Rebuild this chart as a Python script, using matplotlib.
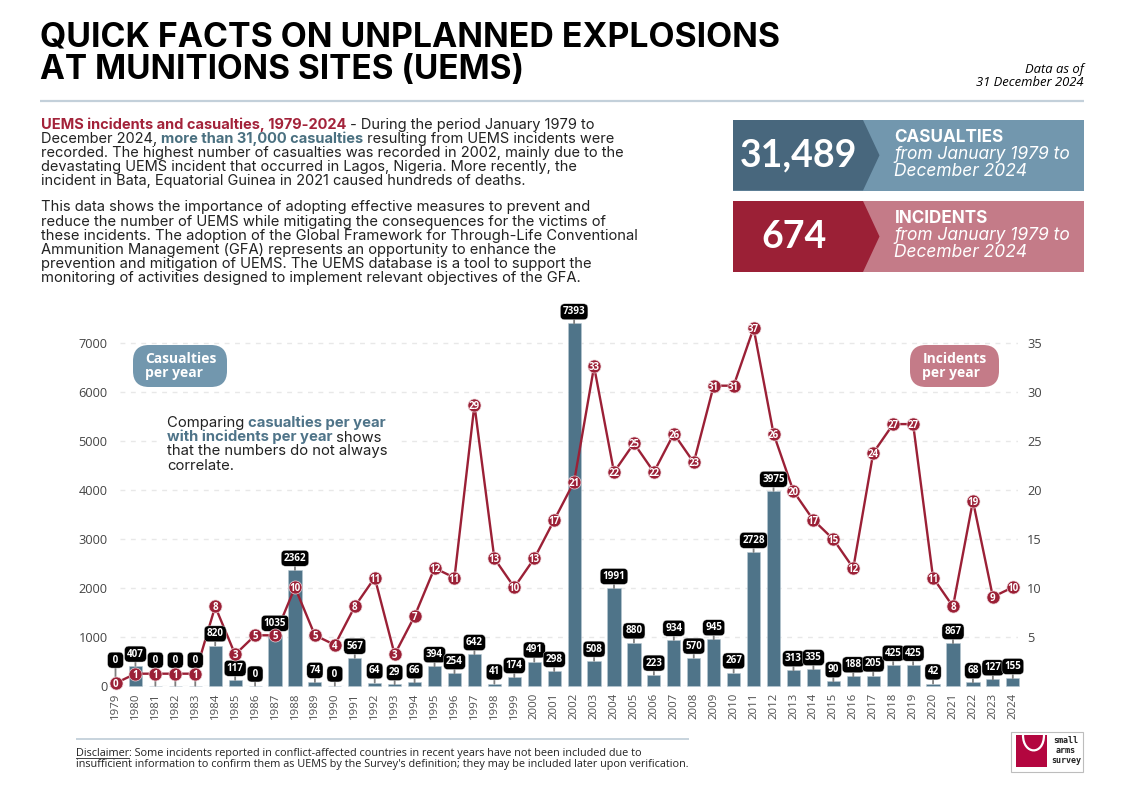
import matplotlib
matplotlib.use("Agg")
import matplotlib.pyplot as plt
from matplotlib.patches import FancyBboxPatch, Polygon, Rectangle, PathPatch
from matplotlib.path import Path

# ---------------------------------------------------------------------------
# Data
# ---------------------------------------------------------------------------
years = list(range(1979, 2025))
casualties = [0, 407, 0, 0, 0, 820, 117, 0, 1035, 2362, 74, 0, 567, 64, 29, 66,
              394, 254, 642, 41, 174, 491, 298, 7393, 508, 1991, 880, 223, 934,
              570, 945, 267, 2728, 3975, 313, 335, 90, 188, 205, 425, 425, 42,
              867, 68, 127, 155]
incidents = [0, 1, 1, 1, 1, 8, 3, 5, 5, 10, 5, 4, 8, 11, 3, 7, 12, 11, 29, 13, 10,
             13, 17, 21, 33, 22, 25, 22, 26, 23, 31, 31, 37, 26, 20, 17, 15, 12,
             24, 27, 27, 11, 8, 19, 9, 10]
left_ticks = [0, 1000, 2000, 3000, 4000, 5000, 6000, 7000]
right_ticks = [5, 10, 15, 20, 25, 30, 35]
raised_labels = [1979, 1981, 1982, 1983]

BLUE = "#4f7489"
BLUE_DARK = "#48677d"
BLUE_LIGHT = "#7297ae"
RED = "#9b2036"
RED_LIGHT = "#c47b88"
RULE = "#c3d0da"
INK = "#222222"

HEAD = "Inter"
BODY = "Open Sans"

W, H = 1122, 793
fig = plt.figure(figsize=(W / 100, H / 100), dpi=100, facecolor="white")

# ---------------------------------------------------------------------------
# Chart
# ---------------------------------------------------------------------------
ax = fig.add_axes([110 / W, (H - 685.7) / H, 908 / W, 367.5 / H])
ax.bar(years, casualties, width=0.66, color=BLUE, edgecolor="#b9c9d3", linewidth=0.4,
       clip_on=False, zorder=2)
ax.set_yticks(left_ticks)
ax.set_xticks(years)
ax.set_xticklabels(years, rotation=90, fontsize=8.2, color="#4d4d4d", family=BODY)
ax.set_xlim(1978.724, 2024.26)
ax.set_ylim(0, 7500)
ax.tick_params(axis="x", length=0, pad=5)
ax.tick_params(axis="y", length=0, pad=1.7, labelsize=9.2, labelcolor="#444444")
for lab in ax.get_yticklabels():
    lab.set_family(BODY)
# gridlines stop short of the first year
ax.hlines(left_ticks, 1979.226, 2024.26, color="#e8e8e8", linewidth=1,
          linestyle=(0, (3.5, 4)), zorder=0)
for s in ax.spines.values():
    s.set_visible(False)

# right hand labels follow the gridlines
sec = ax.secondary_yaxis("right", functions=(lambda v: v / 200, lambda v: v * 200))
sec.set_yticks(right_ticks)
sec.tick_params(axis="y", length=0, pad=6.5, labelsize=9.2, labelcolor="#444444")
for lab in sec.get_yticklabels():
    lab.set_family(BODY)
sec.spines["right"].set_visible(False)

# the line in the reference sits on its own slightly tighter scale
ax2 = ax.twinx()
ax2.set_ylim(-0.25, 38.03)
ax2.set_yticks([])
for s in ax2.spines.values():
    s.set_visible(False)

ax2.plot(years, incidents, color=RED, linewidth=1.7, clip_on=False, zorder=3)
ax2.plot(years, incidents, linestyle="none", marker="o", markersize=9.4,
         markerfacecolor=RED, markeredgecolor="#ecd3d8", markeredgewidth=0.5,
         clip_on=False, zorder=5)
for y, v in zip(years, incidents):
    ax2.text(y, v, str(v), ha="center", va="center_baseline", color="white", fontsize=7,
             fontweight="bold", family=BODY, zorder=6, clip_on=False)

for y, v in zip(years, casualties):
    off = 19.5 if y in raised_labels else 9.5
    txt = f" {v} " if v < 10 else str(v)
    ax2.annotate(txt, xy=(y, v), xycoords=ax.transData, xytext=(0, off),
                 textcoords="offset points", ha="center", va="center_baseline",
                 color="white", fontsize=7.1, fontweight="bold", family=BODY,
                 annotation_clip=False, zorder=4,
                 bbox=dict(boxstyle="round,pad=0.25,rounding_size=0.45", facecolor="black",
                           edgecolor="#dddddd", linewidth=0.3),
                 arrowprops=dict(arrowstyle="-", color="#7f7f7f", lw=1.3,
                                 shrinkA=0, shrinkB=0))

# ---------------------------------------------------------------------------
# Page layer, pixel coordinates
# ---------------------------------------------------------------------------
pg = fig.add_axes([0, 0, 1, 1], zorder=10)
pg.set_xlim(0, W)
pg.set_ylim(H, 0)
pg.axis("off")
pg.patch.set_alpha(0)
renderer = fig.canvas.get_renderer()


def rich_line(x, y, parts, size, family=HEAD):
    # parts: (text, color, weight), laid out one after the other
    for s, color, weight in parts:
        t = pg.text(x, y, s, fontsize=size, color=color, fontweight=weight, family=family,
                    va="baseline", ha="left")
        bb = t.get_window_extent(renderer)
        x += bb.width
    return x


# title and rule
pg.text(40, 46.5, "QUICK FACTS ON UNPLANNED EXPLOSIONS", fontsize=24.35, fontweight="bold",
        family=HEAD, color="black")
pg.text(40, 78.5, "AT MUNITIONS SITES (UEMS)", fontsize=24, fontweight="bold",
        family=HEAD, color="black")
pg.plot([40, 1084], [100.8, 100.8], color=RULE, linewidth=1.6, solid_capstyle="butt")
pg.text(1084, 73.5, "Data as of", ha="right", fontsize=9.35, style="italic", family=BODY, color="black")
pg.text(1084, 86.5, "31 December 2024", ha="right", fontsize=9.35, style="italic", family=BODY, color="black")

# intro
REG = "normal"
BOLD = "bold"
para1 = [
    [("UEMS incidents and casualties, 1979-2024", "#a3233a", BOLD),
     (" - During the period January 1979 to", INK, REG)],
    [("December 2024, ", INK, REG), ("more than 31,000 casualties", "#4a7080", BOLD),
     (" resulting from UEMS incidents were", INK, REG)],
    [("recorded. The highest number of casualties was recorded in 2002, mainly due to the", INK, REG)],
    [("devastating UEMS incident that occurred in Lagos, Nigeria. More recently, the", INK, REG)],
    [("incident in Bata, Equatorial Guinea in 2021 caused hundreds of deaths.", INK, REG)],
]
para2 = [
    "This data shows the importance of adopting effective measures to prevent and",
    "reduce the number of UEMS while mitigating the consequences for the victims of",
    "these incidents. The adoption of the Global Framework for Through-Life Conventional",
    "Ammunition Management (GFA) represents an opportunity to enhance the",
    "prevention and mitigation of UEMS. The UEMS database is a tool to support the",
    "monitoring of activities designed to implement relevant objectives of the GFA.",
]
for i, parts in enumerate(para1):
    rich_line(41, 128.5 + 14.1 * i, parts, 10.5)
for i, line in enumerate(para2):
    rich_line(41, 211.5 + 14.1 * i, [(line, INK, REG)], 10.62)


# stat panels
def stat_panel(y0, y1, dark, light, number, num_x, head):
    pg.add_patch(Rectangle((733, y0), 351, y1 - y0, facecolor=light, edgecolor="none"))
    mid = (y0 + y1) / 2
    pg.add_patch(Polygon([(733, y0), (863, y0), (879.5, mid), (863, y1), (733, y1)],
                         closed=True, facecolor=dark, edgecolor="none"))
    pg.text(num_x, mid, number, ha="center", va="center", color="white", fontsize=27,
            fontweight="bold", family="Lato")
    pg.text(894.5, y0 + 22, head, color="white", fontsize=12.3, fontweight="bold", family=HEAD)
    pg.text(894.5, y0 + 39, "from January 1979 to", color="white", fontsize=12.5, style="italic", family=HEAD)
    pg.text(894.5, y0 + 56, "December 2024", color="white", fontsize=12.5, style="italic", family=HEAD)


stat_panel(120, 190.5, BLUE_DARK, BLUE_LIGHT, "31,489", 799, "CASUALTIES")
stat_panel(201, 272, RED, RED_LIGHT, "674", 794, "INCIDENTS")


# pills
def pill(x0, x1, color, l1, l2):
    pg.add_patch(FancyBboxPatch((x0 + 16, 345 + 16), x1 - x0 - 32, 42 - 32,
                                boxstyle="round,pad=16,rounding_size=16",
                                facecolor=color, edgecolor="none", mutation_aspect=1))
    pg.text(x0 + 12.5, 363, l1, color="white", fontsize=10, fontweight="bold", family=BODY)
    pg.text(x0 + 12.5, 377.5, l2, color="white", fontsize=10, fontweight="bold", family=BODY)


pill(133, 227, BLUE_LIGHT, "Casualties", "per year")
pill(910, 999, RED_LIGHT, "Incidents", "per year")

# note on the chart
pg.add_patch(Rectangle((160, 414), 238, 60, facecolor="white", edgecolor="none"))
note = [
    [("Comparing ", INK, REG), ("casualties per year", BLUE, BOLD)],
    [("with incidents per year", BLUE, BOLD), (" shows", INK, REG)],
    [("that the numbers do not always", INK, REG)],
    [("correlate.", INK, REG)],
]
for i, parts in enumerate(note):
    rich_line(167, 427.5 + 14 * i, parts, 10.7)

# disclaimer
pg.plot([76, 689], [738.5, 738.5], color=RULE, linewidth=1.3, solid_capstyle="butt")
t = pg.text(76, 756, "Disclaimer", fontsize=7.8, family=BODY, color=INK)
bb = t.get_window_extent(renderer)
pg.plot([76, 76 + bb.width], [757.5, 757.5], color=INK, linewidth=0.6)
pg.text(76 + bb.width, 756, ": Some incidents reported in conflict-affected countries in recent years have not been included due to",
        fontsize=7.8, family=BODY, color=INK)
pg.text(76, 767, "insufficient information to confirm them as UEMS by the Survey's definition; they may be included later upon verification.",
        fontsize=7.8, family=BODY, color=INK)

# logo
pg.add_patch(Rectangle((1011, 732), 72.5, 39.5, facecolor="white", edgecolor="#bdbdbd", linewidth=0.8))
pg.add_patch(Rectangle((1016, 735), 31.5, 32, facecolor="#b3063f", edgecolor="none"))
curve = Path([(1023, 735), (1023, 755), (1044, 756), (1044, 735)],
             [Path.MOVETO, Path.CURVE4, Path.CURVE4, Path.CURVE4])
pg.add_patch(PathPatch(curve, facecolor="none", edgecolor="white", linewidth=1.6))
for yy, word in zip([743, 753, 763], ["small", "arms", "survey"]):
    pg.text(1066, yy, word, ha="center", fontsize=6, fontweight="bold",
            family="DejaVu Sans Mono", color="#222222")

fig.savefig("out.png", dpi=100)
